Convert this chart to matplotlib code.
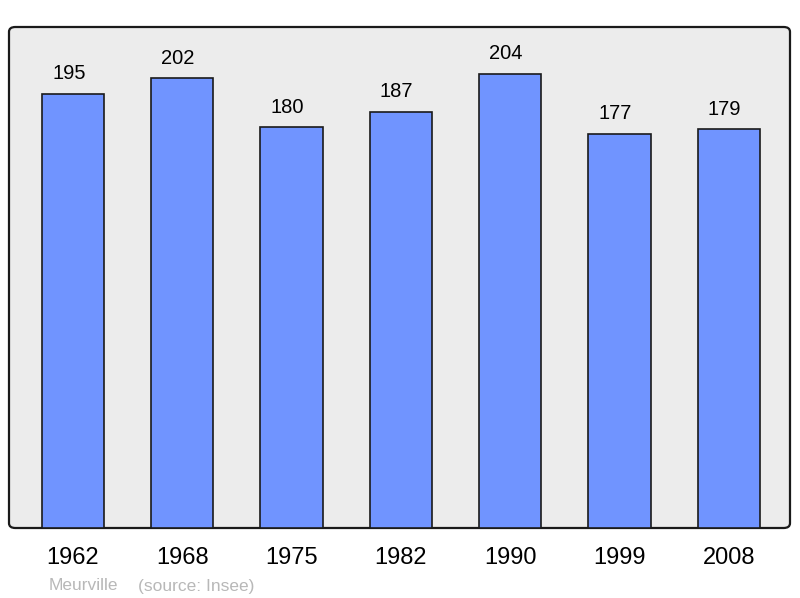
import matplotlib.pyplot as plt
from matplotlib.patches import FancyBboxPatch

years = ['1962', '1968', '1975', '1982', '1990', '1999', '2008']
population = [195, 202, 180, 187, 204, 177, 179]

plt.rcParams['font.family'] = ['Liberation Sans', 'DejaVu Sans']

fig = plt.figure(figsize=(8, 5.98), dpi=100)
ax = fig.add_axes([9 / 800, 70 / 598, 781 / 800, 501 / 598])
ax.set_facecolor('none')

# rounded background frame
bg = FancyBboxPatch((9 / 800, 70 / 598), 781 / 800, 501 / 598,
                    boxstyle='round,pad=0,rounding_size=0.008',
                    transform=fig.transFigure, facecolor='#ececec',
                    edgecolor='#1a1a1a', linewidth=1.6, zorder=-1)
fig.patches.append(bg)

x = range(len(years))
bars = ax.bar(x, population, width=0.57, color='#7094ff', edgecolor='#1a1a1a', linewidth=1.2)
for xi, v in zip(x, population):
    ax.annotate(str(v), (xi, v), xytext=(-3, 7.5), textcoords='offset points',
                ha='center', va='bottom', fontsize=14.5)

ax.set_xlim(-0.585, 6.56)
ax.set_ylim(0, 225)
ax.set_xticks(list(x))
ax.set_xticklabels(years, fontsize=17)
ax.tick_params(axis='x', length=0, pad=14)
ax.set_yticks([])
for s in ax.spines.values():
    s.set_visible(False)

fig.text(49 / 800, 1 - 586 / 598, 'Meurville', color='#b8b8b8', fontsize=12.5, va='center')
fig.text(138 / 800, 1 - 586 / 598, '(source: Insee)', color='#b8b8b8', fontsize=12.5, va='center')

fig.savefig('out.png', dpi=100)
